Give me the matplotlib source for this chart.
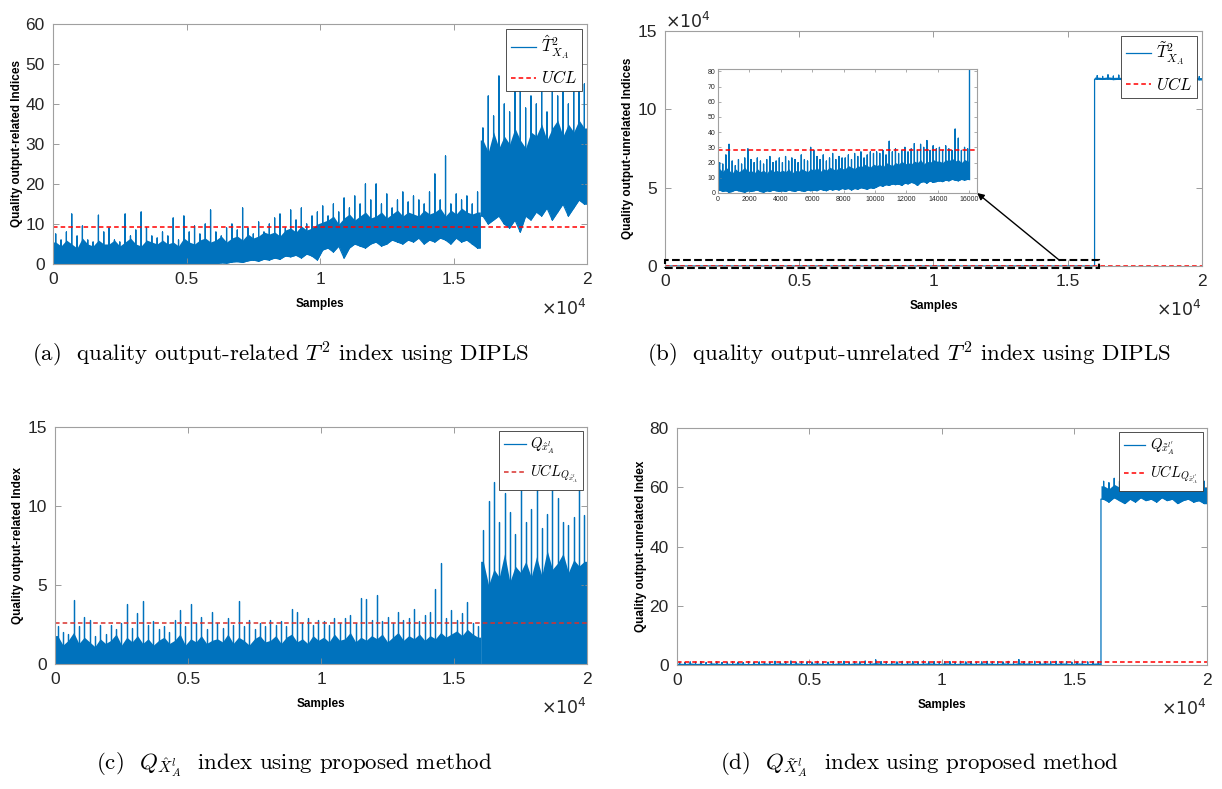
import numpy as np
import matplotlib.pyplot as plt
from matplotlib.patches import Rectangle

plt.rcParams['font.family'] = ['Liberation Sans', 'DejaVu Sans']
plt.rcParams['mathtext.fontset'] = 'cm'

N = 20000
FAULT = 16000
xticks = [0, 5000, 10000, 15000, 20000]
xtick_labels = ['0', '0.5', '1', '1.5', '2']

# ---- (a) output-related T2 (DIPLS), one value per 200 samples:
# spike peak, top of the dense band, bottom of the dense band
a_peak = [7.5, 6, 8, 12.5, 7, 9.5, 6, 5.5, 12.2, 8,
          9, 6, 5.5, 12.5, 7, 8.5, 13, 9, 7, 6.5,
          8, 7, 11.5, 6, 12, 8, 9.5, 7.5, 10, 13.5,
          8, 7, 9, 10, 8.5, 14, 9, 7.5, 10.5, 8,
          10, 11.5, 12.5, 9, 13.5, 11, 14, 10, 12, 13,
          14.5, 12, 15, 13, 16.5, 14, 17, 15, 20, 16,
          20, 15, 17.5, 14, 16, 18, 15.5, 17, 16, 15,
          18, 22.5, 16, 27, 15, 17.5, 16, 17, 15, 18,
          34, 42, 37, 47, 40, 38, 44, 55, 39, 42,
          40, 44, 38, 46, 42, 43, 40, 46, 44, 45]
a_core = [5.5, 4.5, 6, 5, 4, 6.5, 5, 4.5, 6, 5,
          5, 6, 4.5, 5.5, 6.5, 5, 4.5, 6, 5.5, 5,
          6, 5, 5.5, 4.5, 6.5, 5.5, 5, 6, 6.5, 5.5,
          6, 7, 5.5, 6.5, 7, 6, 7.5, 6.5, 7, 8,
          7.5, 8, 7, 8.5, 9, 8, 9.5, 8.5, 9, 10,
          10.5, 11, 12, 10, 11.5, 12.5, 11, 12, 13, 11.5,
          12, 13, 11.5, 12.5, 13.5, 12, 13, 12.5, 12, 13.5,
          12.5, 13, 14, 12, 13.5, 12.5, 14, 13, 12.5, 13,
          31, 28, 33, 29, 32, 30, 34, 31, 29, 33,
          32, 35, 31, 34, 36, 32, 35, 33, 36, 34]
a_floor = [0] * 30 + [
          0, 0.3, 0.2, 0.5, 0.6, 0.4, 0.8, 1, 0.7, 1.2,
          1, 1.5, 1.2, 2, 1.8, 2.2, 1.5, 2.5, 2, 1,
          3.5, 4, 3, 4.5, 1.5, 4, 5, 4.5, 4, 5,
          5.5, 4.5, 5, 6, 5.5, 5, 6, 5.5, 6.5, 5,
          6, 5.5, 6.5, 6, 5, 6.5, 5.5, 6, 5, 4,
          12, 10, 11, 12, 10, 9, 11, 8, 12, 11,
          13, 12, 14, 11, 13, 15, 12, 14, 16, 15]
a_ucl = 9.2

# ---- (b) output-unrelated T2 (DIPLS): normal part 0-16000 (also the inset) and fault part
b_peak_pre = [20, 19, 25, 32, 21, 18, 22, 19, 23, 29,
              22, 20, 23, 21, 19, 22, 24, 20, 21, 23,
              20, 24, 21, 23, 22, 20, 25, 22, 21, 30,
              28, 24, 22, 25, 21, 23, 26, 22, 24, 23,
              23, 25, 22, 26, 24, 27, 23, 25, 27, 26,
              27, 26, 28, 25, 34, 27, 29, 26, 28, 30,
              27, 29, 32.5, 28, 32, 30, 34.5, 28, 31, 29,
              30, 28, 31, 29, 28, 42, 36, 28, 30, 29]
b_core_pre = [16, 14, 17, 15, 13, 16, 14, 15, 17, 14,
              15, 13, 16, 14, 15, 13, 16, 14, 15, 14,
              15, 14, 16, 13, 15, 14, 16, 15, 14, 16,
              15, 17, 14, 16, 15, 17, 16, 15, 17, 16,
              16, 18, 17, 16, 18, 17, 19, 18, 17, 19,
              18, 19, 17, 20, 19, 18, 20, 19, 21, 19,
              20, 19, 21, 20, 22, 19, 21, 20, 22, 21,
              21, 20, 22, 21, 23, 21, 22, 20, 22, 21]
b_floor_pre = [2, 1, 1.5, 0.5, 1, 2, 1.5, 1, 0.5, 1.5,
               1, 1.5, 2, 1, 0.5, 1.5, 1, 2, 1.5, 1,
               1.5, 1, 2, 1.5, 1, 2, 1.5, 1, 2, 1.5,
               2, 1.5, 2.5, 2, 1.5, 2.5, 2, 2.5, 2, 3,
               2.5, 3, 2, 3, 2.5, 3.5, 3, 2.5, 3.5, 3,
               4, 5, 4.5, 5.5, 5, 6, 5.5, 6, 5, 6.5,
               6, 7, 6.5, 5, 7, 7.5, 6.5, 8, 7, 7.5,
               8, 7.5, 8.5, 8, 9, 8.5, 8, 9, 8.5, 9]
b_peak_post = [121500, 121000, 122000, 121200, 121800, 121000, 121400, 120900, 121300, 121600,
               121000, 121200, 120800, 121400, 121100, 120900, 121300, 121000, 121200, 120900]
b_core_post = [120600, 120300, 120700, 120400, 120500, 120200, 120600, 120300, 120400, 120200,
               120500, 120300, 120100, 120400, 120200, 120300, 120100, 120400, 120200, 120300]
b_floor_post = [119300, 119100, 119400, 119000, 119200, 118900, 119300, 119100, 119000, 119200,
                118900, 119100, 119000, 118800, 119100, 118900, 119000, 118800, 119100, 118900]
b_ucl = 28

# ---- (c) Q index of the output-related part (proposed method)
c_peak = [2.4, 2.0, 1.9, 4.05, 2.4, 3.0, 2.8, 1.8, 2.5, 1.9,
          2.5, 2.2, 2.6, 3.8, 2.3, 3.2, 4.0, 2.5, 2.7, 2.2,
          2.4, 2.0, 2.8, 3.4, 2.4, 3.8, 2.6, 3.0, 2.2, 3.3,
          2.6, 2.3, 2.9, 2.5, 4.0, 2.4, 2.8, 2.2, 2.6, 2.4,
          2.8, 2.5, 2.7, 2.4, 3.5, 3.3, 2.6, 2.9, 2.5, 2.8,
          2.7, 2.5, 2.9, 2.6, 2.9, 3.1, 2.6, 4.2, 4.1, 2.8,
          4.35, 2.7, 3.0, 2.6, 3.3, 2.8, 2.9, 3.5, 2.7, 3.1,
          3.3, 4.75, 6.4, 2.9, 3.4, 2.8, 3.2, 3.9, 2.6, 2.4,
          8.5, 10.3, 11.5, 9.0, 10.8, 9.6, 8.2, 11.4, 9.0, 9.8,
          11.0, 8.6, 9.5, 11.4, 10.5, 9.0, 8.8, 9.3, 11.5, 9.4]
c_core = [1.8, 1.2, 1.5, 2.0, 1.3, 1.7, 1.4, 1.1, 1.6, 1.3,
          1.5, 1.9, 1.2, 1.7, 1.4, 1.8, 1.3, 1.6, 1.2, 1.5,
          1.7, 1.3, 1.5, 1.9, 1.2, 1.6, 1.4, 1.8, 1.3, 1.5,
          1.6, 1.4, 1.9, 1.3, 1.7, 1.5, 1.2, 1.6, 1.8, 1.4,
          1.5, 1.8, 1.3, 1.7, 1.9, 1.4, 1.6, 1.3, 1.8, 1.5,
          1.7, 1.4, 1.9, 1.5, 1.6, 2.0, 1.4, 1.7, 1.5, 1.8,
          1.6, 1.9, 1.4, 1.7, 2.0, 1.5, 1.8, 1.6, 1.9, 1.5,
          1.8, 1.6, 2.0, 1.7, 1.9, 2.1, 1.8, 2.2, 1.9, 1.7,
          6.5, 5.0, 6.0, 5.5, 7.0, 5.2, 6.2, 5.8, 6.5, 5.5,
          6.8, 5.6, 7.2, 6.0, 6.4, 7.0, 5.8, 6.6, 6.2, 6.5]
c_floor = [0] * 100
c_ucl = 2.62

# ---- (d) Q index of the output-unrelated part (proposed method)
d_peak = [0.9, 0.8, 1.0, 0.9, 1.1, 0.8, 0.9, 1.0, 0.8, 0.9,
          1.0, 0.9, 0.8, 1.1, 0.9, 1.0, 0.8, 0.9, 1.2, 0.9,
          1.0, 1.3, 0.9, 1.1, 1.0, 0.9, 1.2, 1.0, 0.9, 1.1,
          1.0, 1.2, 0.9, 1.1, 1.0, 1.3, 1.0, 1.7, 1.1, 1.0,
          1.1, 1.0, 1.2, 0.9, 1.1, 1.0, 1.3, 1.0, 1.1, 0.9,
          1.0, 1.1, 0.9, 1.2, 1.0, 1.1, 0.9, 1.0, 1.2, 1.0,
          1.1, 1.0, 1.2, 1.0, 1.8, 1.1, 1.0, 1.2, 0.9, 1.1,
          1.0, 1.2, 1.0, 1.1, 0.9, 1.0, 1.2, 1.0, 1.1, 1.0,
          62, 61.5, 63, 62, 64.5, 63.5, 62, 61, 62.5, 63,
          63, 62, 62.5, 63.5, 62, 63, 62, 62.5, 63, 62]
d_core = [0.6, 0.5, 0.7, 0.5, 0.6, 0.4, 0.7, 0.6, 0.5, 0.6,
          0.5, 0.7, 0.6, 0.4, 0.6, 0.5, 0.7, 0.5, 0.6, 0.7,
          0.6, 0.5, 0.7, 0.6, 0.4, 0.6, 0.7, 0.5, 0.6, 0.5,
          0.7, 0.6, 0.5, 0.7, 0.6, 0.5, 0.6, 0.8, 0.6, 0.5,
          0.6, 0.7, 0.5, 0.6, 0.7, 0.5, 0.6, 0.7, 0.6, 0.5,
          0.7, 0.6, 0.5, 0.6, 0.7, 0.6, 0.5, 0.7, 0.6, 0.6,
          0.5, 0.7, 0.6, 0.5, 0.8, 0.6, 0.7, 0.5, 0.6, 0.7,
          0.6, 0.5, 0.7, 0.6, 0.5, 0.7, 0.6, 0.5, 0.6, 0.7,
          60.5, 59.5, 61, 60, 60.5, 59, 61.5, 60, 60.5, 59.5,
          61, 60, 60.5, 61, 59.5, 60.5, 60, 61, 59.5, 60]
d_floor = [0] * 80 + [
          56, 55, 56.5, 55.5, 54.5, 56, 55, 56.5, 55.5, 56,
          55, 56.5, 55.5, 56, 54.5, 55.5, 56, 55, 55.5, 54.5]
d_ucl = 1.0

BLUE = '#0072BD'


def draw_series(ax, peak, core, floor, x0=0, x1=N, split=FAULT):
    peak = np.asarray(peak, float)
    core = np.asarray(core, float)
    floor = np.asarray(floor, float)
    edges = np.linspace(x0, x1, len(peak) + 1)
    c = 0.5 * (edges[:-1] + edges[1:])
    px, py = [], []
    # before and after the fault separately, so the jump stays vertical
    for m in (c < split, c >= split):
        if not m.any():
            continue
        xm = np.concatenate([[edges[:-1][m][0]], c[m], [edges[1:][m][-1]]])
        lo = np.concatenate([[floor[m][0]], floor[m], [floor[m][-1]]])
        hi = np.concatenate([[core[m][0]], core[m], [core[m][-1]]])
        ax.fill_between(xm, lo, hi, color=BLUE, lw=0)
        # spikes, joined along the bottom of the band
        cm, fm = c[m], floor[m]
        px += [xm[0]] + list(np.column_stack([cm, cm, cm]).ravel()) + [xm[-1]]
        py += [lo[0]] + list(np.column_stack([fm, peak[m], fm]).ravel()) + [lo[-1]]
    ax.plot(px, py, color=BLUE, lw=0.9)


def style(ax, ylim, yticks, ylabel):
    ax.set_xlim(0, N)
    ax.set_ylim(*ylim)
    ax.set_xticks(xticks)
    ax.set_xticklabels(xtick_labels)
    ax.set_yticks(yticks)
    ax.tick_params(direction='in', top=True, right=True, length=4, width=0.6,
                   labelsize=12.5, colors='#8c8c8c', labelcolor='#262626', pad=6)
    for s in ax.spines.values():
        s.set_color('#a0a0a0')
        s.set_linewidth(0.8)
    ax.set_xlabel('Samples', fontsize=8.5, fontweight='bold', labelpad=8)
    ax.set_ylabel(ylabel, fontsize=8.5, fontweight='bold', labelpad=2)


def legend(ax, labels, fs=12):
    lg = ax.legend(labels=labels, handles=ax.lines[:2], loc='upper right', fontsize=fs,
                   fancybox=False, framealpha=1, edgecolor='#333333',
                   handlelength=1.5, handletextpad=0.3, borderpad=0.3,
                   borderaxespad=0.3, labelspacing=0.5)
    lg.get_frame().set_linewidth(0.6)


def xscale_note(ax):
    ax.text(1.0, -0.14, r'$\times10^4$', transform=ax.transAxes, ha='right', va='top',
            fontsize=12.5, color='#262626', math_fontfamily='dejavusans')


fig = plt.figure(figsize=(12.22, 7.89), dpi=100)
ax_a = fig.add_axes([0.0434, 0.6654, 0.437, 0.3042])
ax_b = fig.add_axes([0.5442, 0.6629, 0.4394, 0.2978])
ax_c = fig.add_axes([0.0450, 0.1584, 0.4354, 0.3004])
ax_d = fig.add_axes([0.5540, 0.1572, 0.4337, 0.3003])

# (a)
draw_series(ax_a, a_peak, a_core, a_floor)
ax_a.axhline(a_ucl, color='red', ls='--', lw=1.1, dashes=(3, 2))
style(ax_a, (0, 60), range(0, 61, 10), 'Quality output-related Indices')
legend(ax_a, [r'$\hat{T}^2_{X_A}$', r'$UCL$'])
xscale_note(ax_a)

# (b)
draw_series(ax_b, b_peak_pre + b_peak_post, b_core_pre + b_core_post,
            b_floor_pre + b_floor_post)
ax_b.axhline(b_ucl, color='red', ls='--', lw=1.1, dashes=(3, 2))
style(ax_b, (0, 150000), [0, 50000, 100000, 150000], 'Quality output-unrelated Indices')
ax_b.set_yticklabels(['0', '5', '10', '15'])
legend(ax_b, [r'$\tilde{T}^2_{X_A}$', r'$UCL$'])
xscale_note(ax_b)
ax_b.text(0.0, 1.0, r'$\times10^4$', transform=ax_b.transAxes, ha='left', va='bottom',
          fontsize=12.5, color='#262626', math_fontfamily='dejavusans')
ax_b.add_patch(Rectangle((0, -1500), 16150, 5000, fill=False, ls='--', lw=1.5,
                         edgecolor='black', clip_on=False, zorder=5))

# inset: zoom on the normal part of (b)
ins = fig.add_axes([0.5876, 0.7554, 0.212, 0.1571])
draw_series(ins, b_peak_pre, b_core_pre, b_floor_pre, 0, FAULT)
ins.plot([FAULT, FAULT], [b_floor_pre[-1], 90], color=BLUE, lw=1)
ins.axhline(b_ucl, color='red', ls='--', lw=1.1, dashes=(3, 2))
ins.set_xlim(0, 16500)
ins.set_ylim(0, 81.5)
ins.set_xticks(range(0, 16001, 2000))
ins.set_yticks(range(0, 81, 10))
ins.tick_params(direction='in', top=True, right=True, length=2.5, width=0.5,
                labelsize=5, colors='#8c8c8c', labelcolor='#262626', pad=2)
for s in ins.spines.values():
    s.set_color('#a0a0a0')
    s.set_linewidth(0.8)
ax_b.annotate('', xy=(1.0, 0.0), xycoords=ins.transAxes, xytext=(14700, 3500),
              textcoords='data',
              arrowprops=dict(arrowstyle='-|>', color='black', lw=1.0, shrinkA=0, shrinkB=0,
                              mutation_scale=10))

# (c)
draw_series(ax_c, c_peak, c_core, c_floor)
ax_c.axhline(c_ucl, color='#d9302c', ls='--', lw=1.1, dashes=(3, 2))
style(ax_c, (0, 15), [0, 5, 10, 15], 'Quality output-related Index')
legend(ax_c, [r'$Q_{\hat{x}^l_A}$', r'$UCL_{Q_{\hat{x}^l_A}}$'], fs=10.5)
xscale_note(ax_c)

# (d)
draw_series(ax_d, d_peak, d_core, d_floor)
ax_d.axhline(d_ucl, color='red', ls='--', lw=1.1, dashes=(3, 2))
style(ax_d, (0, 80), range(0, 81, 20), 'Quality output-unrelated Index')
legend(ax_d, [r"$Q_{\tilde{x}^{l'}_A}$", r"$UCL_{Q_{\tilde{x}^{l'}_A}}$"], fs=10.5)
xscale_note(ax_d)

# captions
cap = dict(fontsize=16.5, family='cmr10', ha='center', va='center')
fig.text(281 / 1222, 1 - 355 / 789, r'(a)  quality output-related $T^2$ index using DIPLS', **cap)
fig.text(909 / 1222, 1 - 355 / 789, r'(b)  quality output-unrelated $T^2$ index using DIPLS', **cap)
fig.text(294 / 1222, 1 - 765 / 789, r'(c)  $Q_{\hat{X}^l_A}$  index using proposed method', **cap)
fig.text(919 / 1222, 1 - 765 / 789, r'(d)  $Q_{\tilde{X}^l_A}$  index using proposed method', **cap)

fig.savefig('out.png', dpi=100)
